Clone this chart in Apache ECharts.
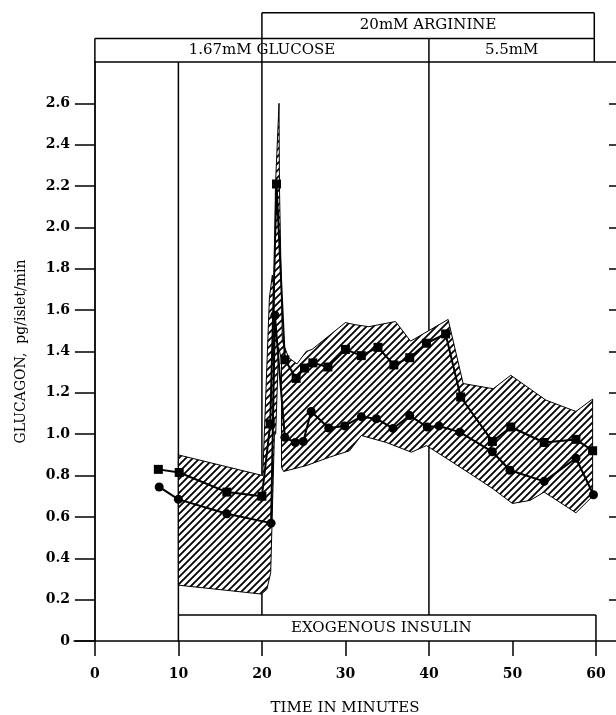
<!DOCTYPE html>
<html>
<head>
<meta charset="utf-8">
<script src="https://cdn.jsdelivr.net/npm/echarts@6/dist/echarts.min.js"></script>
<style>html,body{margin:0;padding:0;background:#fff}#c{width:616px;height:715px}</style>
</head>
<body>
<div id="c"></div>
<script>
// ---- data ----
const xTicks = [0, 10, 20, 30, 40, 50, 60];
const yTicks = [0, 0.2, 0.4, 0.6, 0.8, 1.0, 1.2, 1.4, 1.6, 1.8, 2.0, 2.2, 2.4, 2.6];

// squares (upper curve)
const sqTime  = [7.6, 10.1, 15.8, 20.0, 21.0, 21.75, 22.75, 24.1, 25.1, 26.1, 27.9, 30.0, 31.9, 33.9, 35.8, 37.7, 39.7, 42.0, 43.8, 47.6, 49.8, 53.8, 57.6, 59.6];
const sqValue = [0.83, 0.815, 0.72, 0.70, 1.05, 2.21, 1.36, 1.27, 1.32, 1.345, 1.325, 1.41, 1.38, 1.42, 1.335, 1.37, 1.44, 1.485, 1.18, 0.965, 1.035, 0.96, 0.975, 0.92];

// circles (lower curve)
const ciTime  = [7.7, 10.0, 15.8, 21.1, 21.56, 22.75, 24.0, 24.95, 25.9, 28.0, 29.9, 31.9, 33.7, 35.7, 37.7, 39.8, 41.2, 43.7, 47.6, 49.7, 53.8, 57.6, 59.7];
const ciValue = [0.745, 0.685, 0.615, 0.57, 1.575, 0.985, 0.96, 0.965, 1.11, 1.03, 1.04, 1.085, 1.075, 1.028, 1.09, 1.035, 1.04, 1.01, 0.915, 0.826, 0.772, 0.884, 0.707];

// hatched variability envelope (outline points: [time, glucagon])
const bandEarly = [[10,0.90],[20.1,0.80],[20.9,1.66],[21.25,1.77],[21.8,1.55],[21.5,1.0],[21.2,0.55],[21.05,0.33],[20.6,0.25],[19.95,0.227],[10,0.27]];
const bandLate = [[21.3,1.0],[21.62,2.2],[22.05,2.6],[22.1,2.2],[22.45,1.45],[23.2,1.37],[24.2,1.34],[25.3,1.40],[26.0,1.41],[30.0,1.54],[31.1,1.53],[32.8,1.52],[36.0,1.545],[37.8,1.45],[42.3,1.555],[44.1,1.245],[47.7,1.22],[49.8,1.285],[54.0,1.165],[57.6,1.11],[59.6,1.17],
  [59.6,0.70],[57.6,0.62],[53.8,0.72],[52.1,0.68],[50.0,0.665],[47.7,0.735],[44.9,0.81],[42.5,0.873],[39.7,0.945],[37.9,0.913],[34.9,0.96],[31.9,0.994],[30.5,0.92],[28.1,0.889],[25.3,0.848],[22.6,0.82],[22.35,0.84],[22.35,1.36],[22.0,1.42],[21.65,1.0]];

// annotation boxes (time range, level)
const arginineSpan = [20, 59.8];
const glucoseLowSpan = [0, 40];
const glucoseHighSpan = [40, 59.8];
const insulinSpan = [10, 60];
const insulinLabelAt = 34.3;
const boxLevels = [2.80, 2.914, 3.038]; // frame top, row divider, top of arginine box
const insulinTop = 0.126;

const xMin = -2.5, xMax = 62.4, yMax = 2.80;
const serif = '"DejaVu Serif", "Liberation Serif", serif';

// hatch pattern
const tile = document.createElement('canvas');
tile.width = 7; tile.height = 7;
(function(){
  const g = tile.getContext('2d');
  g.fillStyle = '#fff'; g.fillRect(0,0,7,7);
  g.strokeStyle = '#000'; g.lineWidth = 1.8;
  g.beginPath();
  g.moveTo(0,7); g.lineTo(7,0);
  g.moveTo(-1,1); g.lineTo(1,-1);
  g.moveTo(6,8); g.lineTo(8,6);
  g.stroke();
})();
const hatch = {image: tile, repeat: 'repeat'};
const bandPolys = [bandEarly, bandLate];

const chart = echarts.init(document.getElementById('c'), null, {renderer:'canvas'});

function seg(api, a, b) {
  const p = api.coord(a), q = api.coord(b);
  return {type:'line', shape:{x1:p[0], y1:p[1], x2:q[0], y2:q[1]}, style:{stroke:'#000', lineWidth:1.5}};
}
function label(api, at, text, size) {
  const p = api.coord(at);
  return {type:'text', x:p[0], y:p[1], style:{text:text, fill:'#000', font: size + 'px ' + serif, align:'center', verticalAlign:'middle', textAlign:'center', textVerticalAlign:'middle'}};
}

const option = {
  animation: false,
  backgroundColor: '#fff',
  grid: {left: 74, right: 0, top: 62, bottom: 74, containLabel: false, outerBoundsMode: 'none'},
  xAxis: {
    type: 'value', min: xMin, max: xMax,
    axisLine: {show: true, onZero: true, lineStyle: {color:'#000', width:1.5}},
    axisTick: {show: true, length: 15, customValues: xTicks, lineStyle:{color:'#000', width:1.5}},
    axisLabel: {customValues: xTicks, margin: 26, color:'#000', fontFamily: serif, fontSize: 14, fontWeight:'bold'},
    splitLine: {show: false},
    name: 'TIME IN MINUTES', nameLocation: 'middle', nameGap: 60, nameMoveOverlap: false,
    nameTextStyle: {color:'#000', fontFamily: serif, fontSize: 15}
  },
  yAxis: [{
    type: 'value', min: 0, max: yMax, position: 'left',
    axisLine: {show: true, onZero: true, lineStyle: {color:'#000', width:1.8}},
    axisTick: {show: true, length: 20, customValues: yTicks, lineStyle:{color:'#000', width:1.5}},
    axisLabel: {customValues: yTicks, margin: 4, color:'#000', fontFamily: serif, fontSize: 14, fontWeight:'bold',
      formatter: v => v === 0 ? '0' : v.toFixed(1)},
    splitLine: {show: false},
    name: 'GLUCAGON,  pg/islet/min', nameLocation: 'middle', nameGap: 46, nameMoveOverlap: false,
    nameTextStyle: {color:'#000', fontFamily: serif, fontSize: 14}
  }, {
    type: 'value', min: 0, max: yMax, position: 'right',
    axisLine: {show: false, onZero: false},
    axisTick: {show: true, inside: true, length: 7, customValues: yTicks.slice(1), lineStyle:{color:'#000', width:1.5}},
    axisLabel: {show: false},
    splitLine: {show: false}
  }],
  series: [
    {
      type: 'custom', name: 'frame', clip: false, z: 1, silent: true,
      data: [[0, 0]],
      renderItem: function(params, api) {
        const [f, d, t] = boxLevels;
        const ch = [
          seg(api, [arginineSpan[0], t], [arginineSpan[1], t]),
          seg(api, [glucoseLowSpan[0], d], [glucoseHighSpan[1], d]),
          seg(api, [0, f], [xMax, f]),
          seg(api, [0, f], [0, d]),
          seg(api, [arginineSpan[0], insulinTop], [arginineSpan[0], t]),
          seg(api, [glucoseHighSpan[0], insulinTop], [glucoseHighSpan[0], d]),
          seg(api, [arginineSpan[1], f], [arginineSpan[1], t]),
          seg(api, [insulinSpan[0], 0], [insulinSpan[0], f]),
          seg(api, [insulinSpan[0], insulinTop], [insulinSpan[1], insulinTop]),
          seg(api, [insulinSpan[1], 0], [insulinSpan[1], insulinTop]),
          label(api, [(arginineSpan[0]+arginineSpan[1])/2, (d+t)/2], '20mM ARGININE', 15),
          label(api, [(glucoseLowSpan[0]+glucoseLowSpan[1])/2, (f+d)/2], '1.67mM GLUCOSE', 15),
          label(api, [(glucoseHighSpan[0]+glucoseHighSpan[1])/2, (f+d)/2], '5.5mM', 15),
          label(api, [insulinLabelAt, insulinTop/2], 'EXOGENOUS INSULIN', 15)
        ];
        return {type:'group', children: ch};
      }
    },
    {
      type: 'custom', name: 'band', clip: false, z: 2, silent: true,
      data: bandPolys.map((p, i) => [i, 0]),
      renderItem: function(params, api) {
        const poly = bandPolys[params.dataIndex];
        return {type:'polygon', shape:{points: poly.map(p => api.coord(p))},
          style:{fill: hatch, stroke:'#000', lineWidth:1}};
      }
    },
    {
      type: 'line', name: 'squares', z: 5,
      data: sqTime.map((t, i) => [t, sqValue[i]]),
      symbol: 'rect', symbolSize: 9, showAllSymbol: true,
      lineStyle: {color:'#000', width:2}, itemStyle: {color:'#000'}
    },
    {
      type: 'line', name: 'circles', z: 5,
      data: ciTime.map((t, i) => [t, ciValue[i]]),
      symbol: 'circle', symbolSize: 9, showAllSymbol: true,
      lineStyle: {color:'#000', width:2}, itemStyle: {color:'#000'}
    }
  ]
};
chart.setOption(option);
</script>
</body>
</html>
